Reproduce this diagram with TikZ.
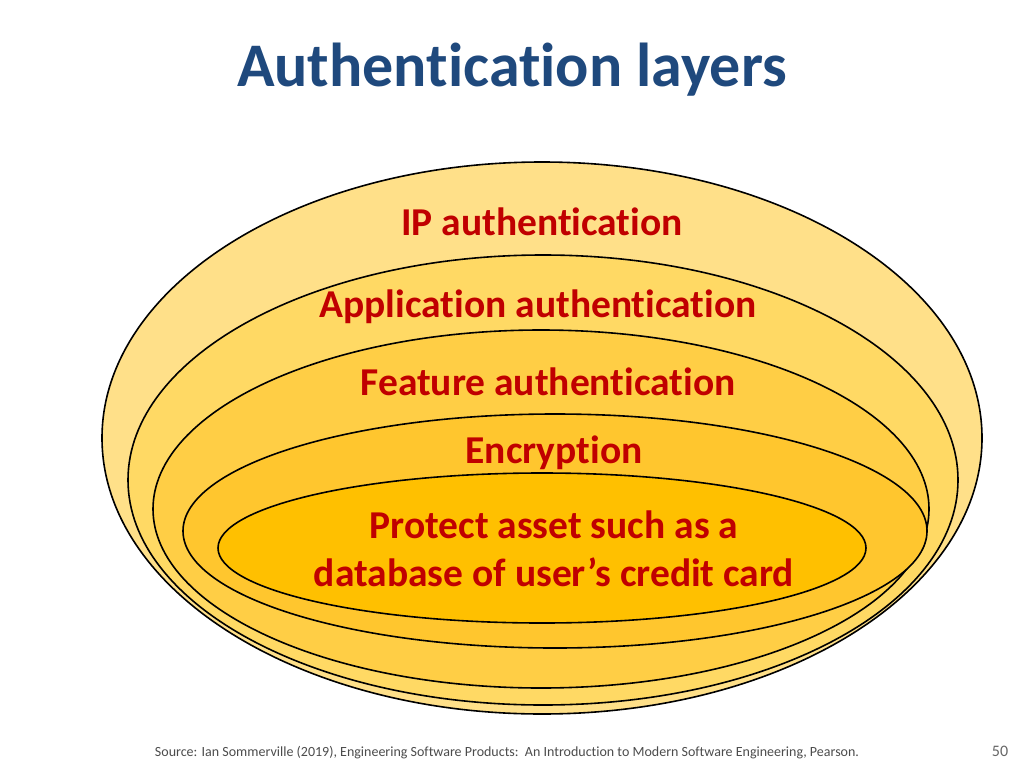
\documentclass[tikz,border=0pt]{standalone}
\usepackage{fontspec}
\setmainfont{Carlito}[Ligatures=NoCommon]
\definecolor{titleblue}{HTML}{1F497D}
\definecolor{labelred}{HTML}{C00000}
\definecolor{layerA}{HTML}{FFE089}
\definecolor{layerB}{HTML}{FFD964}
\definecolor{layerC}{HTML}{FFCE45}
\definecolor{layerD}{HTML}{FFC62E}
\definecolor{layerE}{HTML}{FFC000}
\begin{document}
\begin{tikzpicture}[x=1pt,y=-1pt]
  \tikzstyle{layer}=[draw=black, line width=1.6pt]
  \tikzstyle{lbl}=[text=labelred, font=\fontsize{39.5}{48}\selectfont\bfseries, align=center]
  \useasboundingbox (0,0) rectangle (1024,768);
  % nested layers
  \fill[white] (0,0) rectangle (1024,768);
  \draw[layer, fill=layerA] (542,438) ellipse [x radius=440, y radius=276];
  \draw[layer, fill=layerB] (543,480) ellipse [x radius=415, y radius=225];
  \draw[layer, fill=layerC] (541,509) ellipse [x radius=388, y radius=179];
  \draw[layer, fill=layerD] (555,531) ellipse [x radius=372, y radius=117];
  \draw[layer, fill=layerE] (542,548) ellipse [x radius=324, y radius=75];
  % texts
  \node[text=titleblue, font=\fontsize{62}{70}\selectfont\bfseries] (title) at (512,70) {Authentication layers};
  \node[lbl] (ip) at (542,222) {IP authentication};
  \node[lbl] (app) at (538,307) {Application authentication};
  \node[lbl] (feat) at (548,382) {Feature authentication};
  \node[lbl] (enc) at (554,453) {Encryption};
  \node[lbl] (asset) at (554,549) {Protect asset such as a\\database of user’s credit card};
  \node[text=black!70, font=\fontsize{14}{16}\selectfont] (src) at (507,753) {Source: Ian Sommerville (2019), Engineering Software Products:\ \ An Introduction to Modern Software Engineering, Pearson.};
  \node[text=black!60, font=\fontsize{16}{18}\selectfont] (page) at (1000,751) {50};
\end{tikzpicture}
\end{document}
